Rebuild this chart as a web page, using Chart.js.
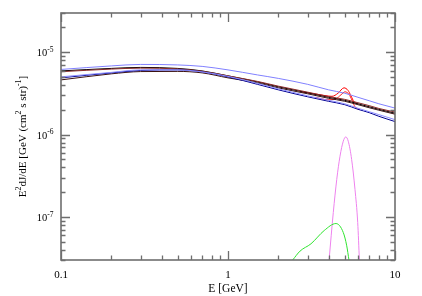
<!DOCTYPE html>
<html>
<head>
<meta charset="utf-8">
<script src="https://cdn.jsdelivr.net/npm/chart.js@4/dist/chart.umd.min.js"></script>
<style>
  html, body { margin: 0; padding: 0; background: #fff; }
  #wrap { width: 422px; height: 296px; }
</style>
</head>
<body>
<div id="wrap"><canvas id="myChart" width="422" height="296"></canvas></div>
<script>
// energies (GeV) where the smooth background curves were read
var energies = [0.1, 0.2, 0.3, 0.5, 0.7, 1, 1.5, 2, 3, 4, 5, 6, 7, 8, 10];

// E^2 dJ/dE values
var lightBlueUpper = [6.19e-6, 6.83e-6, 7.12e-6, 7.02e-6, 6.74e-6, 6.11e-6, 5.31e-6, 4.82e-6, 4.08e-6, 3.50e-6, 3.18e-6, 2.84e-6, 2.58e-6, 2.37e-6, 2.10e-6];
var blackUpper     = [5.94e-6, 6.37e-6, 6.55e-6, 6.37e-6, 5.94e-6, 5.17e-6, 4.37e-6, 3.81e-6, 3.22e-6, 2.84e-6, 2.61e-6, 2.37e-6, 2.18e-6, 2.03e-6, 1.82e-6];
var brownUpper     = [5.81e-6, 6.25e-6, 6.42e-6, 6.28e-6, 5.89e-6, 5.17e-6, 4.43e-6, 3.88e-6, 3.28e-6, 2.90e-6, 2.68e-6, 2.44e-6, 2.25e-6, 2.08e-6, 1.88e-6];
var darkLower      = [4.62e-6, 5.47e-6, 5.83e-6, 5.86e-6, 5.62e-6, 4.89e-6, 4.25e-6, 3.70e-6, 3.13e-6, 2.76e-6, 2.54e-6, 2.31e-6, 2.12e-6, 1.98e-6, 1.77e-6];
var lightBlueLower = [5.03e-6, 5.70e-6, 6.11e-6, 6.11e-6, 5.78e-6, 5.10e-6, 4.19e-6, 3.60e-6, 2.96e-6, 2.61e-6, 2.37e-6, 2.09e-6, 1.90e-6, 1.75e-6, 1.52e-6];
var navyLower      = [4.89e-6, 5.62e-6, 6.02e-6, 6.11e-6, 5.78e-6, 5.03e-6, 4.08e-6, 3.50e-6, 2.88e-6, 2.54e-6, 2.31e-6, 2.03e-6, 1.85e-6, 1.67e-6, 1.44e-6];

// line bumps near 5 GeV
var redUpperE = [2.70, 3.555, 4.196, 4.557, 4.95, 5.23, 5.45, 5.68, 6.00];
var redUpperY = [3.33e-6, 3.05e-6, 2.92e-6, 3.18e-6, 3.70e-6, 3.45e-6, 2.96e-6, 2.51e-6, 2.34e-6];
var redLowerE = [3.319, 3.97, 4.43, 4.75, 5.02, 5.30, 5.53, 5.76, 6.17];
var redLowerY = [2.84e-6, 2.65e-6, 2.72e-6, 3.05e-6, 3.31e-6, 3.09e-6, 2.61e-6, 2.18e-6, 2.01e-6];

// line-only components
var magentaE = [4.03, 4.27, 4.48, 4.685, 4.90, 5.07, 5.25, 5.50, 5.76, 5.98, 6.12];
var magentaY = [3.0e-8, 1.13e-7, 2.86e-7, 5.47e-7, 8.30e-7, 9.38e-7, 8.30e-7, 4.99e-7, 2.16e-7, 8.56e-8, 3.0e-8];
var greenE = [2.44, 2.70, 3.14, 3.77, 4.43, 4.90, 5.14, 5.30];
var greenY = [3.0e-8, 3.85e-8, 4.72e-8, 6.85e-8, 8.32e-8, 6.48e-8, 4.46e-8, 3.0e-8];

var xTickLabels = ['0.1', '1', '10'];
var yTickExponents = [-7, -6, -5];

function pts(xs, ys) {
  return xs.map(function (x, i) { return { x: x, y: ys[i] }; });
}

function line(label, xs, ys, color, dash) {
  return {
    label: label,
    data: pts(xs, ys),
    borderColor: color,
    borderWidth: 1,
    borderDash: dash || [],
    pointRadius: 0,
    showLine: true,
    fill: false,
    cubicInterpolationMode: 'monotone'
  };
}

var serif = '"Liberation Serif", "DejaVu Serif", serif';

// draws pieces of text, some raised as superscripts, centred at (0,0)
function drawRich(ctx, parts, size, align) {
  var w = 0;
  parts.forEach(function (p) {
    ctx.font = (p.sup ? size * 0.72 : size) + 'px ' + serif;
    p.w = ctx.measureText(p.t).width;
    w += p.w;
  });
  var x = align === 'right' ? -w : -w / 2;
  ctx.textAlign = 'left';
  ctx.textBaseline = 'alphabetic';
  parts.forEach(function (p) {
    ctx.font = (p.sup ? size * 0.72 : size) + 'px ' + serif;
    ctx.fillText(p.t, x, p.sup ? -size * 0.42 : 0);
    x += p.w;
  });
}

var frame = {
  id: 'frame',
  afterDatasetsDraw: function (chart) {
    var ctx = chart.ctx, a = chart.chartArea;
    var xs = chart.scales.x, ys = chart.scales.y;
    ctx.save();
    ctx.strokeStyle = '#6e6e6e';
    ctx.lineWidth = 1.6;
    ctx.strokeRect(a.left, a.top, a.right - a.left, a.bottom - a.top);

    ctx.lineWidth = 1.3;
    ctx.beginPath();
    // x ticks, pointing into the plot
    [0.1, 1].forEach(function (d) {
      for (var m = 1; m <= 10; m++) {
        var v = d * m;
        if (v > xs.max * 1.0001) continue;
        var len = (m === 1 || m === 10) ? 9 : 4.5;
        var px = Math.round(xs.getPixelForValue(v)) + 0.5;
        ctx.moveTo(px, a.bottom); ctx.lineTo(px, a.bottom - len);
        ctx.moveTo(px, a.top); ctx.lineTo(px, a.top + len);
      }
    });
    // y ticks
    [1e-8, 1e-7, 1e-6, 1e-5].forEach(function (d) {
      for (var m = 1; m <= 9; m++) {
        var v = d * m;
        if (v < ys.min * 0.9999 || v > ys.max * 1.0001) continue;
        var len = m === 1 ? 9 : 4.5;
        var py = Math.round(ys.getPixelForValue(v)) + 0.5;
        ctx.moveTo(a.left, py); ctx.lineTo(a.left + len, py);
        ctx.moveTo(a.right, py); ctx.lineTo(a.right - len, py);
      }
    });
    ctx.stroke();

    ctx.fillStyle = '#000';
    // x tick labels
    ctx.font = '11px ' + serif;
    ctx.textAlign = 'center';
    ctx.textBaseline = 'alphabetic';
    xTickLabels.forEach(function (t) {
      ctx.fillText(t, xs.getPixelForValue(parseFloat(t)), 278);
    });
    // y tick labels
    yTickExponents.forEach(function (e) {
      var py = ys.getPixelForValue(Math.pow(10, e));
      ctx.save();
      ctx.translate(53.5, py + 4);
      drawRich(ctx, [{ t: '10' }, { t: String(e), sup: true }], 10.5, 'right');
      ctx.restore();
    });
    // axis titles
    ctx.save();
    ctx.translate((a.left + a.right) / 2, 292);
    drawRich(ctx, [{ t: 'E [GeV]' }], 11.5);
    ctx.restore();

    ctx.save();
    ctx.translate(26, (a.top + a.bottom) / 2);
    ctx.rotate(-Math.PI / 2);
    drawRich(ctx, [
      { t: 'E' }, { t: '2', sup: true }, { t: 'dJ/dE [GeV (cm' }, { t: '2', sup: true },
      { t: ' s str)' }, { t: '-1', sup: true }, { t: ']' }
    ], 11);
    ctx.restore();
    ctx.restore();
  }
};

var ctx = document.getElementById('myChart');

new Chart(ctx, {
  type: 'scatter',
  data: {
    datasets: [
      line('light blue upper', energies, lightBlueUpper, '#8080ff'),
      line('light blue lower', energies, lightBlueLower, '#8c8cff'),
      line('navy', energies, navyLower, '#000090'),
      line('dark lower', energies, darkLower, '#3a1010'),
      line('brown', energies, brownUpper, '#8b2a2a'),
      line('black', energies, blackUpper, '#000000'),
      line('green', greenE, greenY, '#2fe42f'),
      line('magenta', magentaE, magentaY, '#ee82ee'),
      line('red upper', redUpperE, redUpperY, '#ff0000'),
      line('red lower', redLowerE, redLowerY, '#ff2020')
    ]
  },
  options: {
    responsive: false,
    animation: false,
    layout: { padding: { top: 13, right: 27, left: 0, bottom: 0 } },
    plugins: { legend: { display: false }, tooltip: { enabled: false } },
    scales: {
      x: {
        type: 'logarithmic',
        min: 0.1,
        max: 10,
        ticks: { display: false },
        grid: { display: false },
        border: { display: false },
        afterFit: function (s) { s.height = 36; }
      },
      y: {
        type: 'logarithmic',
        min: 3e-8,
        max: 3e-5,
        ticks: { display: false },
        grid: { display: false },
        border: { display: false },
        afterFit: function (s) { s.width = 61; }
      }
    }
  },
  plugins: [frame]
});
</script>
</body>
</html>
